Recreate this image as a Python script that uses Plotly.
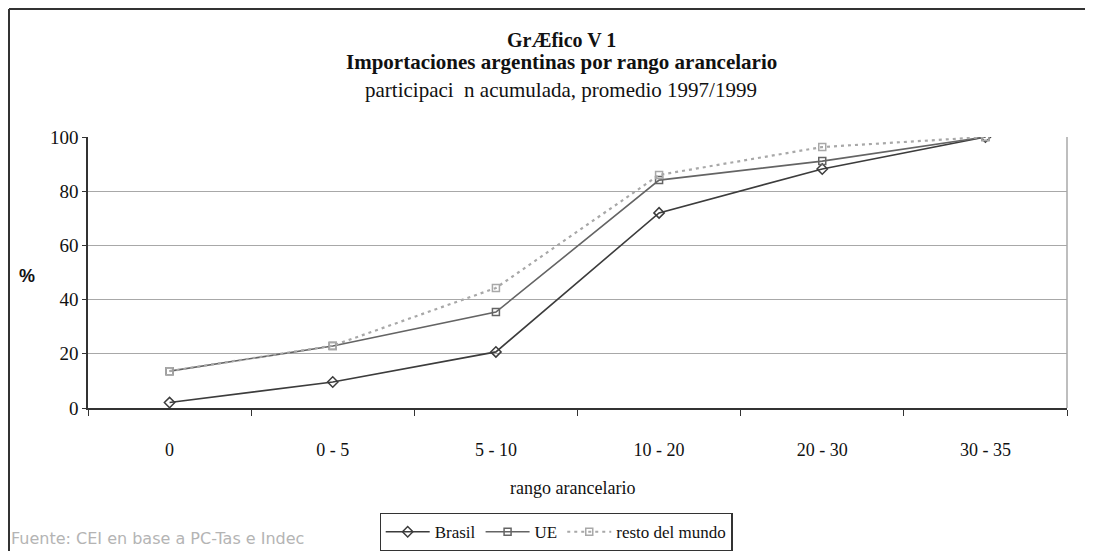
import plotly.graph_objects as go

categories = ["0", "0 - 5", "5 - 10", "10 - 20", "20 - 30", "30 - 35"]
brasil = [2.0, 9.6, 20.7, 72.0, 88.2, 100.0]
ue = [13.6, 22.9, 35.4, 84.1, 91.1, 100.0]
resto = [13.6, 23.0, 44.3, 86.0, 96.3, 100.0]
y_ticks = [0, 20, 40, 60, 80, 100]

SERIF = "Liberation Serif"
SANS = "Liberation Sans"

# the page has an 8px body margin on every side, so keep the figure inside the window
OFF = 8
W, H = 1093 - 2 * OFF, 559 - 2 * OFF
L, R, T, B = 88 - OFF, 1067 - OFF, 137 - OFF, 408 - OFF
pw, ph = R - L, B - T

def px(x):
    return (x - OFF - L) / pw

def py(y):
    return (B - (y - OFF)) / ph

fig = go.Figure()
fig.add_trace(go.Scatter(
    x=categories, y=brasil, name="Brasil", mode="lines+markers",
    line=dict(color="#3c3c3c", width=1.6),
    marker=dict(symbol="diamond-open", size=8, color="#3c3c3c", line=dict(width=1.5)),
))
fig.add_trace(go.Scatter(
    x=categories, y=ue, name="UE", mode="lines+markers",
    line=dict(color="#646464", width=1.6),
    marker=dict(symbol="square-open", size=7, color="#646464", line=dict(width=1.5)),
))
fig.add_trace(go.Scatter(
    x=categories, y=resto, name="resto del mundo", mode="lines+markers",
    line=dict(color="#a8a8a8", width=2.2, dash="3px,4px"),
    marker=dict(symbol="square-open", size=7, color="#a8a8a8", line=dict(width=1.5)),
))

annotations = [
    dict(text="<b>GrÆfico V 1</b>", x=px(561), y=py(40), font=dict(family=SERIF, size=20, color="#111")),
    dict(text="<b>Importaciones argentinas por rango arancelario</b>", x=px(561), y=py(62), font=dict(family=SERIF, size=21, color="#111")),
    dict(text="participaci  n acumulada, promedio 1997/1999", x=px(561), y=py(90), font=dict(family=SERIF, size=21, color="#111")),
    dict(text="<b>%</b>", x=px(27), y=py(276), font=dict(family=SANS, size=18, color="#111")),
    dict(text="rango arancelario", x=px(572), y=py(488), font=dict(family=SERIF, size=18, color="#111")),
    dict(text="Fuente: CEI en base a PC-Tas e Indec", x=px(9), y=py(538), xanchor="left",
         font=dict(family="DejaVu Sans", size=16, color="#b4b4b4")),
]
for a in annotations:
    a.setdefault("xanchor", "center")
    a.update(xref="paper", yref="paper", yanchor="middle", showarrow=False)

shapes = [
    dict(type="line", xref="paper", yref="paper", x0=1, x1=1, y0=0, y1=1, line=dict(color="#a8a8a8", width=1.5)),
    dict(type="line", xref="paper", yref="paper", x0=px(9), x1=px(9), y0=py(9), y1=py(560), line=dict(color="#333", width=2)),
    dict(type="line", xref="paper", yref="paper", x0=px(9), x1=px(1086), y0=py(9), y1=py(9), line=dict(color="#333", width=2)),
]

fig.update_layout(
    width=W, height=H,
    margin=dict(l=L, r=W - R, t=T, b=H - B, autoexpand=False),
    paper_bgcolor="white", plot_bgcolor="white",
    showlegend=True,
    legend=dict(
        orientation="h", x=px(556), xanchor="center", y=py(513), yanchor="top",
        bordercolor="#333", borderwidth=1.2, bgcolor="white",
        font=dict(family=SERIF, size=17, color="#111"),
        itemwidth=44, tracegroupgap=0,
    ),
    annotations=annotations,
    shapes=shapes,
)
fig.update_xaxes(
    type="category", categoryorder="array", categoryarray=categories,
    range=[-0.5, 5.5], tickson="boundaries", ticks="outside", ticklen=6, tickcolor="#333",
    showline=True, linecolor="#333", linewidth=2, showgrid=False,
    tickfont=dict(family=SERIF, size=18, color="#111"), ticklabelstandoff=24,
)
fig.update_yaxes(
    range=[0, 100], tickvals=y_ticks, ticks="outside", ticklen=4, tickcolor="#333",
    showline=True, linecolor="#333", linewidth=1.5,
    showgrid=True, gridcolor="#a8a8a8", gridwidth=1, zeroline=False,
    tickfont=dict(family=SERIF, size=19, color="#111"),
)

fig.write_html("out.html")
